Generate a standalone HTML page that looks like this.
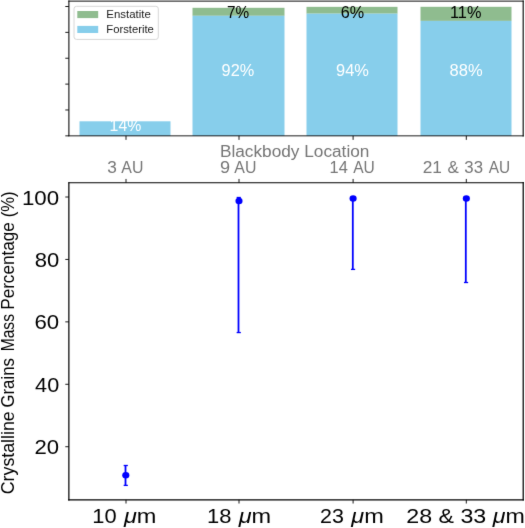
<!DOCTYPE html>
<html><head><meta charset="utf-8"><title>Crystalline grains chart</title>
<style>html,body{margin:0;padding:0;background:#fff;overflow:hidden}svg{display:block}#w{will-change:transform}text{font-family:"Liberation Sans",sans-serif}</style>
</head><body><div id="w">
<svg width="525" height="528" viewBox="0 0 525 528" font-family="'Liberation Sans', sans-serif">
<defs><filter id="soft" x="0" y="0" width="525" height="528" filterUnits="userSpaceOnUse" color-interpolation-filters="sRGB"><feConvolveMatrix order="3" kernelMatrix="0.00640 0.06720 0.00640 0.06720 0.70560 0.06720 0.00640 0.06720 0.00640" divisor="1" edgeMode="duplicate"/></filter></defs>
<g filter="url(#soft)">
<rect width="525" height="528" fill="#fff"/>
<rect x="79.5" y="121.3" width="91.0" height="14.55" fill="#87ceeb"/><rect x="192.5" y="7.8" width="92.0" height="8.00" fill="#8fbc8f"/><rect x="192.5" y="15.8" width="92.0" height="120.05" fill="#87ceeb"/><rect x="306.5" y="6.85" width="91.0" height="6.82" fill="#8fbc8f"/><rect x="306.5" y="13.67" width="91.0" height="122.18" fill="#87ceeb"/><rect x="420.5" y="6.8" width="91.0" height="14.10" fill="#8fbc8f"/><rect x="420.5" y="20.9" width="91.0" height="114.95" fill="#87ceeb"/>
<line x1="68.895" y1="1.13" x2="68.895" y2="135.85" stroke="#000" stroke-width="1.04" stroke-linecap="square"/><line x1="523.18" y1="1.13" x2="523.18" y2="135.85" stroke="#000" stroke-width="1.11" stroke-linecap="square"/><line x1="68.895" y1="1.13" x2="523.18" y2="1.13" stroke="#000" stroke-width="0.94" stroke-linecap="square"/><line x1="68.895" y1="135.85" x2="523.18" y2="135.85" stroke="#000" stroke-width="0.887" stroke-linecap="square"/><line x1="68.87" y1="182.74" x2="68.87" y2="499.92" stroke="#000" stroke-width="1.21" stroke-linecap="square"/><line x1="523.21" y1="182.74" x2="523.21" y2="499.92" stroke="#000" stroke-width="1.24" stroke-linecap="square"/><line x1="68.87" y1="182.74" x2="523.21" y2="182.74" stroke="#000" stroke-width="1.015" stroke-linecap="square"/><line x1="68.87" y1="499.92" x2="523.21" y2="499.92" stroke="#000" stroke-width="1.32" stroke-linecap="square"/>
<line x1="65.3" y1="135.85" x2="68.8" y2="135.85" stroke="#000" stroke-width="0.9"/><line x1="65.3" y1="109.98" x2="68.8" y2="109.98" stroke="#000" stroke-width="0.9"/><line x1="65.3" y1="84.11" x2="68.8" y2="84.11" stroke="#000" stroke-width="0.9"/><line x1="65.3" y1="58.24" x2="68.8" y2="58.24" stroke="#000" stroke-width="0.9"/><line x1="65.3" y1="32.37" x2="68.8" y2="32.37" stroke="#000" stroke-width="0.9"/><line x1="65.3" y1="6.5" x2="68.8" y2="6.5" stroke="#000" stroke-width="0.9"/><line x1="126.0" y1="135.85" x2="126.0" y2="139.85" stroke="#000" stroke-width="0.9"/><line x1="239.0" y1="135.85" x2="239.0" y2="139.85" stroke="#000" stroke-width="0.9"/><line x1="353.1" y1="135.85" x2="353.1" y2="139.85" stroke="#000" stroke-width="0.9"/><line x1="466.3" y1="135.85" x2="466.3" y2="139.85" stroke="#000" stroke-width="0.9"/><line x1="126.0" y1="178.94" x2="126.0" y2="182.74" stroke="#000" stroke-width="0.9"/><line x1="126.0" y1="499.92" x2="126.0" y2="503.52000000000004" stroke="#000" stroke-width="0.9"/><line x1="239.0" y1="178.94" x2="239.0" y2="182.74" stroke="#000" stroke-width="0.9"/><line x1="239.0" y1="499.92" x2="239.0" y2="503.52000000000004" stroke="#000" stroke-width="0.9"/><line x1="353.1" y1="178.94" x2="353.1" y2="182.74" stroke="#000" stroke-width="0.9"/><line x1="353.1" y1="499.92" x2="353.1" y2="503.52000000000004" stroke="#000" stroke-width="0.9"/><line x1="466.3" y1="178.94" x2="466.3" y2="182.74" stroke="#000" stroke-width="0.9"/><line x1="466.3" y1="499.92" x2="466.3" y2="503.52000000000004" stroke="#000" stroke-width="0.9"/><line x1="65.3" y1="197.0" x2="68.85" y2="197.0" stroke="#000" stroke-width="0.9"/><line x1="65.3" y1="259.43" x2="68.85" y2="259.43" stroke="#000" stroke-width="0.9"/><line x1="65.3" y1="321.86" x2="68.85" y2="321.86" stroke="#000" stroke-width="0.9"/><line x1="65.3" y1="384.29" x2="68.85" y2="384.29" stroke="#000" stroke-width="0.9"/><line x1="65.3" y1="446.72" x2="68.85" y2="446.72" stroke="#000" stroke-width="0.9"/>
<rect x="74.0" y="6.3" width="84.3" height="33.1" rx="2.5" ry="2.5" fill="#fff" fill-opacity="0.8" stroke="#d6d6d6" stroke-width="1"/>
<rect x="77.3" y="11.0" width="20.9" height="7.1" fill="#8fbc8f"/>
<rect x="77.3" y="25.9" width="20.9" height="7.1" fill="#87ceeb"/>
<line x1="125.5" y1="465.5" x2="125.5" y2="485.4" stroke="#0000ff" stroke-width="1.8"/><line x1="123.65" y1="465.5" x2="127.85" y2="465.5" stroke="#0000ff" stroke-width="1.3"/><line x1="123.65" y1="485.4" x2="127.85" y2="485.4" stroke="#0000ff" stroke-width="1.3"/><ellipse cx="125.8" cy="475.2" rx="3.55" ry="3.25" fill="#0000ff"/><line x1="238.5" y1="197.5" x2="238.5" y2="332.55" stroke="#0000ff" stroke-width="1.8"/><line x1="236.65" y1="197.5" x2="240.85" y2="197.5" stroke="#0000ff" stroke-width="1.3"/><line x1="236.65" y1="332.55" x2="240.85" y2="332.55" stroke="#0000ff" stroke-width="1.3"/><ellipse cx="239.0" cy="201.1" rx="3.55" ry="3.25" fill="#0000ff"/><line x1="352.8" y1="197.0" x2="352.8" y2="269.4" stroke="#0000ff" stroke-width="1.8"/><line x1="350.95" y1="197.0" x2="355.15" y2="197.0" stroke="#0000ff" stroke-width="1.3"/><line x1="350.95" y1="269.4" x2="355.15" y2="269.4" stroke="#0000ff" stroke-width="1.3"/><ellipse cx="353.1" cy="198.5" rx="3.55" ry="3.25" fill="#0000ff"/><line x1="465.8" y1="197.0" x2="465.8" y2="282.5" stroke="#0000ff" stroke-width="1.8"/><line x1="463.95" y1="197.0" x2="468.15" y2="197.0" stroke="#0000ff" stroke-width="1.3"/><line x1="463.95" y1="282.5" x2="468.15" y2="282.5" stroke="#0000ff" stroke-width="1.3"/><ellipse cx="466.35" cy="198.5" rx="3.55" ry="3.25" fill="#0000ff"/>
<text x="106.26" y="18.20" font-size="10.6" fill="#1a1a1a" textLength="44.55" lengthAdjust="spacingAndGlyphs">Enstatite</text>
<text x="106.27" y="33.10" font-size="10.6" fill="#1a1a1a" textLength="47.62" lengthAdjust="spacingAndGlyphs">Forsterite</text>
<text x="226.89" y="17.70" font-size="16.3" fill="#000" textLength="22.19" lengthAdjust="spacingAndGlyphs">7%</text>
<text x="340.69" y="17.60" font-size="16.3" fill="#000" textLength="23.42" lengthAdjust="spacingAndGlyphs">6%</text>
<text x="449.98" y="17.70" font-size="16.3" fill="#000" textLength="31.43" lengthAdjust="spacingAndGlyphs">11%</text>
<text x="221.62" y="75.70" font-size="16.3" fill="#fff" textLength="32.67" lengthAdjust="spacingAndGlyphs">92%</text>
<text x="336.02" y="75.70" font-size="16.3" fill="#fff" textLength="32.88" lengthAdjust="spacingAndGlyphs">94%</text>
<text x="449.60" y="75.60" font-size="16.3" fill="#fff" textLength="33.11" lengthAdjust="spacingAndGlyphs">88%</text>
<text x="109.61" y="131.40" font-size="16.3" fill="#fff" textLength="31.66" lengthAdjust="spacingAndGlyphs">14%</text>
<text x="219.98" y="156.90" font-size="17.3" fill="#767676" textLength="149.44" lengthAdjust="spacingAndGlyphs">Blackbody Location</text>
<text x="107.15" y="173.00" font-size="17.3" fill="#767676" textLength="9.60" lengthAdjust="spacingAndGlyphs">3</text>
<text x="121.36" y="173.00" font-size="17.3" fill="#767676" textLength="22.06" lengthAdjust="spacingAndGlyphs">AU</text>
<text x="220.14" y="173.00" font-size="17.3" fill="#767676" textLength="10.10" lengthAdjust="spacingAndGlyphs">9</text>
<text x="234.36" y="173.00" font-size="17.3" fill="#767676" textLength="22.06" lengthAdjust="spacingAndGlyphs">AU</text>
<text x="329.57" y="173.00" font-size="17.3" fill="#767676" textLength="18.22" lengthAdjust="spacingAndGlyphs">14</text>
<text x="353.16" y="173.00" font-size="17.3" fill="#767676" textLength="21.63" lengthAdjust="spacingAndGlyphs">AU</text>
<text x="422.64" y="173.00" font-size="17.3" fill="#767676" textLength="19.23" lengthAdjust="spacingAndGlyphs">21</text>
<text x="447.50" y="173.00" font-size="17.3" fill="#767676" textLength="11.34" lengthAdjust="spacingAndGlyphs">&amp;</text>
<text x="464.37" y="173.00" font-size="17.3" fill="#767676" textLength="18.68" lengthAdjust="spacingAndGlyphs">33</text>
<text x="488.66" y="173.00" font-size="17.3" fill="#767676" textLength="21.42" lengthAdjust="spacingAndGlyphs">AU</text>
<text x="21.93" y="204.50" font-size="20.3" fill="#000" textLength="37.23" lengthAdjust="spacingAndGlyphs">100</text>
<text x="34.66" y="266.90" font-size="20.3" fill="#000" textLength="24.51" lengthAdjust="spacingAndGlyphs">80</text>
<text x="34.49" y="329.30" font-size="20.3" fill="#000" textLength="24.69" lengthAdjust="spacingAndGlyphs">60</text>
<text x="35.11" y="391.70" font-size="20.3" fill="#000" textLength="24.05" lengthAdjust="spacingAndGlyphs">40</text>
<text x="34.59" y="454.10" font-size="20.3" fill="#000" textLength="24.59" lengthAdjust="spacingAndGlyphs">20</text>
<text x="92.26" y="522.70" font-size="20.3" fill="#000" textLength="24.31" lengthAdjust="spacingAndGlyphs">10</text>
<text x="123.97" y="522.70" font-size="20.3" fill="#000" textLength="32.48" lengthAdjust="spacingAndGlyphs"><tspan font-style="italic">μ</tspan>m</text>
<text x="206.95" y="522.70" font-size="20.3" fill="#000" textLength="24.43" lengthAdjust="spacingAndGlyphs">18</text>
<text x="238.67" y="522.70" font-size="20.3" fill="#000" textLength="32.48" lengthAdjust="spacingAndGlyphs"><tspan font-style="italic">μ</tspan>m</text>
<text x="320.13" y="522.70" font-size="20.3" fill="#000" textLength="23.83" lengthAdjust="spacingAndGlyphs">23</text>
<text x="351.27" y="522.70" font-size="20.3" fill="#000" textLength="32.48" lengthAdjust="spacingAndGlyphs"><tspan font-style="italic">μ</tspan>m</text>
<text x="406.25" y="522.70" font-size="20.3" fill="#000" textLength="118.56" lengthAdjust="spacingAndGlyphs">28 &amp; 33 <tspan font-style="italic">μ</tspan>m</text>
<text transform="translate(13.9,494.29) rotate(-90)" x="0" y="0" font-size="17.5" fill="#000" textLength="83.06" lengthAdjust="spacingAndGlyphs">Crystalline</text><text transform="translate(13.9,407.54) rotate(-90)" x="0" y="0" font-size="17.5" fill="#000" textLength="49.43" lengthAdjust="spacingAndGlyphs">Grains</text><text transform="translate(13.9,351.29) rotate(-90)" x="0" y="0" font-size="17.5" fill="#000" textLength="37.22" lengthAdjust="spacingAndGlyphs">Mass</text><text transform="translate(13.9,309.71) rotate(-90)" x="0" y="0" font-size="17.5" fill="#000" textLength="87.38" lengthAdjust="spacingAndGlyphs">Percentage</text><text transform="translate(13.9,217.29) rotate(-90)" x="0" y="0" font-size="17.5" fill="#000" textLength="25.94" lengthAdjust="spacingAndGlyphs">(%)</text>
</g>
</svg>
</div></body></html>
